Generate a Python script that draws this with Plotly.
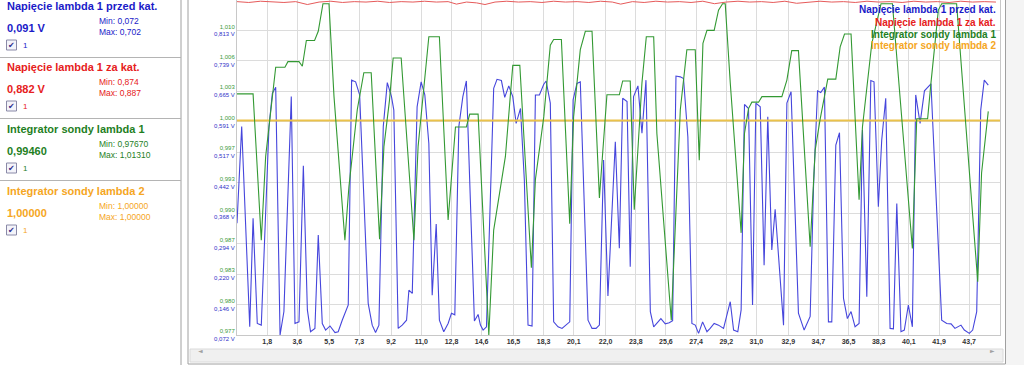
import plotly.graph_objects as go

# ---------------- data ----------------
blue_t = [0.00, 0.28, 0.76, 0.96, 1.21, 1.45, 1.91, 2.11, 2.31, 2.57,
          2.80, 3.24, 3.46, 3.70, 3.96, 4.20, 4.39, 4.65, 4.85, 5.09,
          5.29, 5.55, 5.85, 6.04, 6.28, 6.64, 6.84, 7.08, 7.32, 7.83,
          8.07, 8.27, 8.47, 8.73, 8.97, 9.22, 9.36, 9.62, 9.86, 10.12,
          10.26, 10.46, 10.75, 10.99, 11.21, 11.45, 11.65, 11.89, 12.08, 12.34,
          12.60, 12.80, 13.00, 13.24, 13.48, 13.69, 14.17, 14.39, 14.53, 14.69,
          14.89, 15.32, 15.52, 15.78, 15.98, 16.22, 16.46, 16.66, 16.92, 17.15,
          17.37, 17.61, 17.81, 18.05, 18.31, 18.45, 18.70, 18.90, 19.16, 19.40,
          19.86, 20.06, 20.29, 20.49, 20.95, 21.19, 21.43, 21.63, 21.88, 22.14,
          22.58, 22.82, 23.02, 23.28, 23.47, 23.67, 23.93, 24.17, 24.41, 24.67,
          24.87, 25.06, 25.30, 25.56, 25.80, 26.00, 26.20, 26.46, 26.65, 26.91,
          27.15, 27.35, 27.55, 27.79, 28.05, 28.24, 28.48, 28.74, 29.04, 29.44,
          29.64, 29.89, 30.09, 30.29, 30.53, 30.77, 30.97, 31.23, 31.46, 31.68,
          31.92, 32.12, 32.62, 32.82, 33.07, 33.51, 33.85, 34.21, 34.41, 34.65,
          34.84, 35.06, 35.30, 35.50, 35.74, 35.96, 36.20, 36.43, 36.65, 36.89,
          37.13, 37.33, 37.59, 37.83, 38.02, 38.28, 38.48, 38.72, 38.98, 39.18,
          39.38, 39.63, 39.83, 40.07, 40.31, 40.51, 40.77, 41.03, 41.26, 41.42,
          42.06, 42.36, 42.62, 42.85, 43.21, 43.41, 43.71, 43.91, 44.15, 44.39,
          44.60, 44.84]
blue_v = [0.344, 0.579, 0.092, 0.356, 0.100, 0.096, 0.579, 0.660, 0.675, 0.072,
          0.129, 0.652, 0.100, 0.104, 0.484, 0.133, 0.080, 0.088, 0.315, 0.100,
          0.084, 0.094, 0.078, 0.080, 0.108, 0.145, 0.692, 0.688, 0.656, 0.149,
          0.096, 0.078, 0.096, 0.579, 0.686, 0.652, 0.619, 0.088, 0.096, 0.108,
          0.181, 0.173, 0.627, 0.688, 0.656, 0.538, 0.169, 0.342, 0.108, 0.080,
          0.100, 0.125, 0.121, 0.579, 0.652, 0.690, 0.106, 0.122, 0.096, 0.084,
          0.092, 0.672, 0.694, 0.691, 0.650, 0.678, 0.652, 0.587, 0.623, 0.449,
          0.096, 0.094, 0.656, 0.656, 0.682, 0.690, 0.636, 0.104, 0.092, 0.088,
          0.104, 0.644, 0.684, 0.688, 0.108, 0.088, 0.088, 0.096, 0.498, 0.167,
          0.542, 0.283, 0.648, 0.640, 0.238, 0.652, 0.678, 0.563, 0.692, 0.129,
          0.092, 0.100, 0.112, 0.099, 0.102, 0.107, 0.702, 0.700, 0.696, 0.554,
          0.100, 0.096, 0.076, 0.104, 0.080, 0.088, 0.100, 0.096, 0.088, 0.153,
          0.084, 0.080, 0.133, 0.633, 0.623, 0.145, 0.636, 0.627, 0.242, 0.603,
          0.279, 0.378, 0.096, 0.636, 0.664, 0.125, 0.084, 0.117, 0.433, 0.666,
          0.662, 0.675, 0.104, 0.104, 0.534, 0.564, 0.161, 0.112, 0.129, 0.092,
          0.100, 0.571, 0.165, 0.691, 0.688, 0.384, 0.546, 0.648, 0.088, 0.087,
          0.392, 0.080, 0.084, 0.145, 0.092, 0.656, 0.587, 0.666, 0.676, 0.683,
          0.108, 0.100, 0.099, 0.088, 0.096, 0.084, 0.076, 0.084, 0.129, 0.619,
          0.692, 0.680]

green_t = [0.00, 0.96, 1.45, 1.71, 2.31, 2.86, 3.04, 3.70, 3.90, 4.14,
           4.63, 4.85, 5.13, 5.49, 5.79, 6.44, 6.68, 7.18, 7.57, 8.01,
           8.51, 8.77, 9.10, 9.32, 9.80, 10.56, 10.81, 11.45, 12.08, 12.60,
           13.04, 13.69, 13.89, 14.39, 15.03, 15.32, 16.02, 16.46, 16.88, 17.57,
           17.81, 18.31, 18.70, 18.90, 19.36, 19.86, 20.09, 20.49, 20.79, 21.19,
           21.63, 22.08, 22.82, 23.02, 23.47, 23.71, 24.17, 24.43, 24.87, 25.06,
           25.92, 26.46, 26.85, 27.35, 27.59, 27.81, 28.05, 28.48, 28.74, 28.98,
           29.14, 29.44, 30.09, 30.29, 30.53, 30.73, 31.13, 31.33, 32.52, 32.82,
           33.11, 33.51, 34.21, 34.51, 34.80, 35.26, 35.74, 36.00, 36.26, 36.65,
           37.13, 37.33, 37.89, 38.44, 39.12, 40.31, 40.57, 41.22, 41.42, 41.86,
           42.06, 42.95, 44.21, 44.44, 44.84]
green_v = [1.0029, 1.0029, 0.9870, 0.9961, 1.0058, 1.0058, 1.0064, 1.0064, 1.0059, 1.0087,
           1.0087, 1.0097, 1.0127, 1.0127, 1.0026, 0.9870, 0.9928, 1.0012, 1.0052, 1.0052,
           0.9871, 0.9972, 1.0022, 1.0068, 1.0068, 0.9870, 0.9972, 1.0091, 1.0091, 0.9892,
           0.9993, 0.9993, 1.0007, 1.0007, 0.9767, 0.9881, 0.9961, 1.0060, 1.0060, 0.9840,
           0.9936, 1.0004, 1.0082, 1.0088, 1.0088, 0.9888, 1.0004, 1.0077, 1.0097, 1.0097,
           0.9916, 1.0028, 1.0028, 1.0043, 1.0043, 0.9903, 1.0041, 1.0091, 1.0091, 0.9986,
           0.9783, 1.0012, 1.0077, 1.0077, 0.9957, 1.0084, 1.0098, 1.0098, 1.0120, 1.0127,
           1.0127, 1.0041, 0.9878, 0.9986, 1.0013, 1.0020, 1.0020, 1.0026, 1.0026, 1.0044,
           1.0076, 1.0076, 0.9863, 0.9968, 1.0001, 1.0045, 1.0045, 1.0080, 1.0094, 1.0094,
           0.9914, 0.9993, 1.0084, 1.0127, 1.0127, 0.9861, 1.0002, 1.0002, 1.0041, 1.0120,
           1.0127, 1.0127, 0.9825, 0.9943, 1.0010]

red_t = [0.0, 0.7, 1.4, 2.1, 2.8, 3.5, 4.2, 4.9, 5.6, 6.3,
         7.0, 7.7, 8.4, 9.1, 9.8, 10.5, 11.2, 11.9, 12.6, 13.1,
         13.7, 14.3, 14.8, 15.4, 16.1, 16.8, 17.5, 18.2, 18.9, 19.6,
         20.3, 21.0, 21.7, 22.4, 22.9, 23.6, 24.3, 25.0, 25.7, 26.4,
         27.1, 27.8, 28.5, 29.2, 29.9, 30.6, 31.3, 32.0, 32.7, 33.4,
         34.1, 34.8, 35.5, 36.2, 36.9, 37.6, 38.3, 39.0, 39.7, 40.4,
         41.1, 41.8, 42.5, 43.2, 43.9, 44.6, 45.3]
red_v = [0.883, 0.881, 0.884, 0.882, 0.881, 0.883, 0.876, 0.882, 0.884, 0.881,
         0.883, 0.882, 0.884, 0.881, 0.883, 0.882, 0.884, 0.882, 0.883, 0.877,
         0.882, 0.880, 0.876, 0.882, 0.884, 0.882, 0.883, 0.881, 0.884, 0.882,
         0.883, 0.881, 0.884, 0.882, 0.877, 0.883, 0.881, 0.884, 0.882, 0.883,
         0.881, 0.884, 0.878, 0.882, 0.884, 0.882, 0.883, 0.881, 0.884, 0.879,
         0.882, 0.884, 0.882, 0.883, 0.881, 0.884, 0.882, 0.883, 0.881, 0.884,
         0.882, 0.883, 0.881, 0.884, 0.882, 0.883, 0.882]

yellow_t = [0.0, 45.54]
yellow_v = [1.0, 1.0]

x_tick_labels = ["1,8", "3,6", "5,5", "7,3", "9,2", "11,0", "12,8", "14,6", "16,5", "18,3",
                 "20,1", "22,0", "23,8", "25,6", "27,4", "29,2", "31,0", "32,9", "34,7", "36,5",
                 "38,3", "40,1", "41,9", "43,7"]
volt_ticks = [0.072, 0.146, 0.220, 0.294, 0.368, 0.442, 0.517, 0.591, 0.665, 0.739, 0.813]
volt_tick_labels = ["0,072", "0,146", "0,220", "0,294", "0,368", "0,442", "0,517", "0,591",
                    "0,665", "0,739", "0,813"]
integ_tick_labels = ["0,977", "0,980", "0,983", "0,987", "0,990", "0,993", "0,997", "1,000",
                     "1,003", "1,006", "1,010"]

series_names = ["Napięcie lambda 1 przed kat.", "Napięcie lambda 1 za kat.",
                "Integrator sondy lambda 1", "Integrator sondy lambda 2"]
current_values = ["0,091 V", "0,882 V", "0,99460", "1,00000"]
min_values = ["0,072", "0,874", "0,97670", "1,00000"]
max_values = ["0,702", "0,887", "1,01310", "1,00000"]

# ---------------- styles ----------------
TXT = ["#1a1ac8", "#e62020", "#1f7f1f", "#f5a623"]
LINE_BLUE = "#4646dc"
LINE_RED = "#e65a5a"
LINE_GREEN = "#339933"
LINE_YELLOW = "#ebc24a"
FONT = "Liberation Sans, Arial, sans-serif"

W, H = 1024, 365
L, R, T, B = 237, 1000, 0, 335


def px(x):
    return (x - L) / (R - L)


def py(y):
    return (B - y) / (B - T)


fig = go.Figure()
fig.add_trace(go.Scatter(x=red_t, y=red_v, mode="lines", line=dict(color=LINE_RED, width=1),
                         yaxis="y", hoverinfo="skip", showlegend=False))
fig.add_trace(go.Scatter(x=yellow_t, y=yellow_v, mode="lines", line=dict(color=LINE_YELLOW, width=2),
                         yaxis="y2", hoverinfo="skip", showlegend=False))
fig.add_trace(go.Scatter(x=green_t, y=green_v, mode="lines", line=dict(color=LINE_GREEN, width=1.1),
                         yaxis="y2", hoverinfo="skip", showlegend=False))
fig.add_trace(go.Scatter(x=blue_t, y=blue_v, mode="lines", line=dict(color=LINE_BLUE, width=1.1),
                         yaxis="y", hoverinfo="skip", showlegend=False))

ytext = [f"<span style='color:#3a9a3a'>{g}</span><br><span style='color:#3030c8'>{v} V</span>"
         for g, v in zip(integ_tick_labels, volt_tick_labels)]

fig.update_layout(
    template="none",
    width=W, height=H,
    margin=dict(l=L, r=W - R, t=T, b=H - B, pad=0),
    paper_bgcolor="white", plot_bgcolor="white",
    font=dict(family=FONT),
    hovermode=False,
    xaxis=dict(range=[0, 45.54], tickvals=[float(s.replace(",", ".")) for s in x_tick_labels],
               ticktext=[f"<b>{s}</b>" for s in x_tick_labels],
               tickfont=dict(size=7, color="#333333", family=FONT), automargin=False,
               showgrid=True, gridcolor="#dcdcdc", gridwidth=1, zeroline=False,
               showline=True, linecolor="#c8c8c8", mirror=True, ticks="", fixedrange=True),
    yaxis=dict(range=[0.072, 0.887], tickvals=volt_ticks, ticktext=ytext, automargin=False,
               tickfont=dict(size=6, family=FONT), fixedrange=True,
               showgrid=True, gridcolor="#dcdcdc", gridwidth=1, zeroline=False,
               showline=True, linecolor="#c8c8c8", mirror=True, ticks=""),
    yaxis2=dict(range=[0.9767, 1.0131], overlaying="y", showticklabels=False, automargin=False,
                showgrid=False, zeroline=False, ticks="", fixedrange=True),
)

shapes = []
# left panel divider and separators
shapes.append(dict(type="line", xref="paper", yref="paper", x0=px(181), x1=px(181), y0=py(0), y1=py(365),
                   line=dict(color="#a0a0a0", width=1)))
for sy in [57.5, 118.5, 180.5]:
    shapes.append(dict(type="line", xref="paper", yref="paper", x0=px(0), x1=px(181), y0=py(sy), y1=py(sy),
                       line=dict(color="#b4b4b4", width=1)))
# chart frame
shapes.append(dict(type="rect", xref="paper", yref="paper", x0=px(188), x1=px(1005.5), y0=py(364), y1=py(-2),
                   line=dict(color="#a0a0a0", width=1)))
# horizontal scrollbar
shapes.append(dict(type="rect", xref="paper", yref="paper", x0=px(190), x1=px(1003), y0=py(362), y1=py(349),
                   line=dict(color="#dadada", width=1), fillcolor="#f0f0f0"))
# right strip
shapes.append(dict(type="rect", xref="paper", yref="paper", x0=px(1006), x1=px(1024), y0=py(365), y1=py(0),
                   line=dict(width=0), fillcolor="#f4f4f4"))

annotations = []
box_tops = [0, 61, 123, 185]
for i in range(4):
    y0 = box_tops[i]
    annotations.append(dict(xref="paper", yref="paper", x=px(5), y=py(y0 + 6), xanchor="left", yanchor="middle",
                            text=f"<b>{series_names[i]}</b>", showarrow=False,
                            font=dict(size=11, color=TXT[i], family=FONT)))
    annotations.append(dict(xref="paper", yref="paper", x=px(5), y=py(y0 + 28), xanchor="left", yanchor="middle",
                            text=f"<b>{current_values[i]}</b>", showarrow=False,
                            font=dict(size=11, color=TXT[i], family=FONT)))
    annotations.append(dict(xref="paper", yref="paper", x=px(97), y=py(y0 + 21), xanchor="left", yanchor="middle",
                            text=f"Min: {min_values[i]}", showarrow=False,
                            font=dict(size=8.5, color=TXT[i], family=FONT)))
    annotations.append(dict(xref="paper", yref="paper", x=px(97), y=py(y0 + 32), xanchor="left", yanchor="middle",
                            text=f"Max: {max_values[i]}", showarrow=False,
                            font=dict(size=8.5, color=TXT[i], family=FONT)))
    # checkbox
    cy = y0 + 45
    shapes.append(dict(type="rect", xref="paper", yref="paper", x0=px(6.5), x1=px(16.5), y0=py(cy + 5), y1=py(cy - 5),
                       line=dict(color="#8a8aa8", width=1), fillcolor="#f4f4fa"))
    annotations.append(dict(xref="paper", yref="paper", x=px(11.5), y=py(cy), xanchor="center", yanchor="middle",
                            text="✔", showarrow=False, font=dict(size=8, color="#2c2c8c", family="DejaVu Sans")))
    annotations.append(dict(xref="paper", yref="paper", x=px(21), y=py(cy), xanchor="left", yanchor="middle",
                            text="1", showarrow=False, font=dict(size=8, color=TXT[i], family=FONT)))

# in-chart legend (top right)
for i in range(4):
    annotations.append(dict(xref="paper", yref="paper", x=px(998), y=py(10 + 12 * i), xanchor="right",
                            yanchor="middle", text=f"<b>{series_names[i]}</b>", showarrow=False,
                            font=dict(size=10, color=TXT[i], family=FONT)))

# scrollbar arrows
annotations.append(dict(xref="paper", yref="paper", x=px(196), y=py(355.5), text="◄", showarrow=False,
                        font=dict(size=6, color="#a0a0a0", family="DejaVu Sans")))
annotations.append(dict(xref="paper", yref="paper", x=px(997), y=py(355.5), text="►", showarrow=False,
                        font=dict(size=6, color="#a0a0a0", family="DejaVu Sans")))

fig.update_layout(shapes=shapes, annotations=annotations)
fig.write_html("out.html", config={"displayModeBar": False},
               post_script="document.body.style.margin='0';document.body.style.overflow='hidden';")
